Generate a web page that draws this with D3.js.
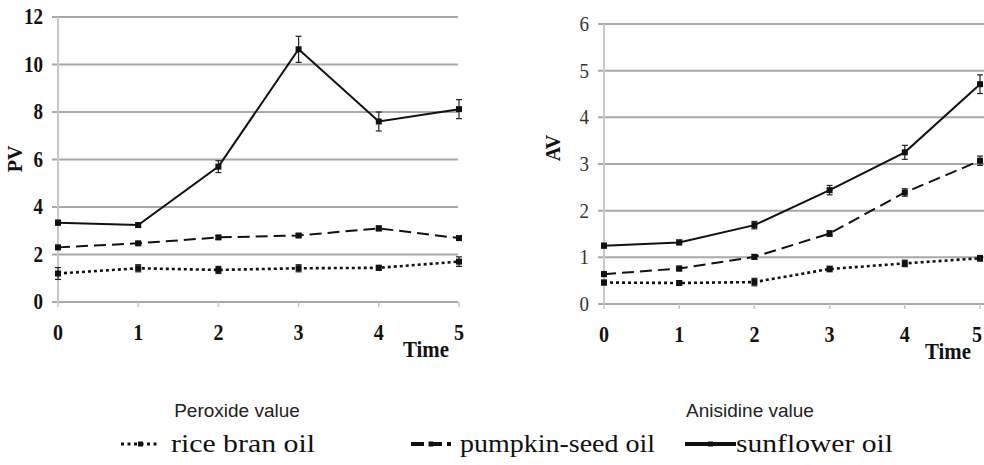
<!DOCTYPE html>
<html lang="en">
<head>
    <meta charset="UTF-8">
    <title>Peroxide and Anisidine value</title>
    <style>
        body { margin: 0; padding: 0; background: #fff; }
        svg { display: block; }
    </style>
</head>
<body>
    <svg id="chart"></svg>
    <script src="https://d3js.org/d3.v7.min.js"></script>
    <script>
        // data
        const times = [0, 1, 2, 3, 4, 5];
        const series = ["rice bran oil", "pumpkin-seed oil", "sunflower oil"];

        const pvRice = [1.2, 1.42, 1.35, 1.42, 1.44, 1.7];
        const pvPumpkin = [2.3, 2.47, 2.72, 2.8, 3.1, 2.69];
        const pvSunflower = [3.34, 3.24, 5.7, 10.64, 7.6, 8.12];
        const pvRiceErr = [0.25, 0.15, 0.15, 0.15, 0.1, 0.2];
        const pvPumpkinErr = [0.08, 0.08, 0.08, 0.08, 0.1, 0.08];
        const pvSunflowerErr = [0.1, 0.1, 0.25, 0.55, 0.4, 0.4];

        const avRice = [0.46, 0.45, 0.47, 0.75, 0.87, 0.98];
        const avPumpkin = [0.64, 0.76, 1.01, 1.51, 2.39, 3.07];
        const avSunflower = [1.25, 1.32, 1.69, 2.44, 3.25, 4.71];
        const avRiceErr = [0.05, 0.05, 0.08, 0.06, 0.07, 0.06];
        const avPumpkinErr = [0.05, 0.05, 0.05, 0.06, 0.08, 0.1];
        const avSunflowerErr = [0.05, 0.05, 0.08, 0.1, 0.15, 0.2];

        const pvTicks = [0, 2, 4, 6, 8, 10, 12];
        const avTicks = [0, 1, 2, 3, 4, 5, 6];

        const width = 984, height = 465;
        const serif = "'Liberation Serif', 'Times New Roman', 'DejaVu Serif', serif";
        const sans = "'Liberation Sans', Arial, sans-serif";
        const svg = d3.select("#chart").attr("width", width).attr("height", height);

        const dashes = ["3,3", "12,6", null];

        function panel(opt) {
            const x = d3.scaleLinear().domain([0, 5]).range([opt.x0, opt.x1]);
            const y = d3.scaleLinear().domain([0, opt.ymax]).range([opt.y0, opt.y1]);
            const g = svg.append("g");

            // gridlines
            g.selectAll("line.grid").data(opt.ticks).enter().append("line")
                .attr("x1", opt.x0 - 6).attr("x2", opt.gridEnd)
                .attr("y1", d => y(d)).attr("y2", d => y(d))
                .attr("stroke", "#a8a8a8").attr("stroke-width", 2);
            // vertical axis
            g.append("line")
                .attr("x1", opt.x0).attr("x2", opt.x0)
                .attr("y1", y(0)).attr("y2", y(opt.ymax))
                .attr("stroke", "#c8c8c8").attr("stroke-width", 2);
            // x tick stubs
            g.selectAll("line.xt").data(times).enter().append("line")
                .attr("x1", d => x(d)).attr("x2", d => x(d))
                .attr("y1", y(0)).attr("y2", y(0) + 5)
                .attr("stroke", "#c8c8c8").attr("stroke-width", 1.5);

            g.selectAll("text.yl").data(opt.ticks).enter().append("text")
                .attr("font-family", serif)
                .attr("font-size", opt.yBold ? 23 : 21)
                .attr("font-weight", opt.yBold ? "bold" : "normal")
                .attr("fill", opt.yBold ? "#111" : "#333")
                .attr("x", opt.x0 - 15).attr("y", d => y(d) + 7)
                .attr("text-anchor", "end")
                .attr("textLength", d => String(d).length * 9.5)
                .attr("lengthAdjust", "spacingAndGlyphs")
                .text(d => d);
            g.selectAll("text.xl").data(times).enter().append("text")
                .attr("font-family", serif).attr("font-size", 24).attr("font-weight", "bold")
                .attr("fill", "#111")
                .attr("x", d => Math.min(x(d), width - 7)).attr("y", y(0) + 38)
                .attr("text-anchor", "middle")
                .attr("textLength", 10)
                .attr("lengthAdjust", "spacingAndGlyphs")
                .text(d => d);

            g.append("text")
                .attr("font-family", serif).attr("font-size", 20).attr("font-weight", "bold")
                .attr("fill", "#111")
                .attr("transform", `translate(${opt.labelX},${opt.labelY}) rotate(-90)`)
                .attr("text-anchor", "middle")
                .text(opt.label);
            g.append("text")
                .attr("font-family", serif).attr("font-size", 23).attr("font-weight", "bold")
                .attr("fill", "#111")
                .attr("x", opt.timeX).attr("y", y(0) + 55)
                .attr("textLength", 46)
                .attr("lengthAdjust", "spacingAndGlyphs")
                .text("Time");

            const line = d3.line().x((d, i) => x(times[i])).y(d => y(d));

            opt.data.forEach((vals, s) => {
                const errs = opt.errs[s];
                g.append("path")
                    .datum(vals)
                    .attr("d", line)
                    .attr("fill", "none")
                    .attr("stroke", "#111")
                    .attr("stroke-width", s === 0 ? 2.6 : 2)
                    .attr("stroke-dasharray", dashes[s]);
                // error bars
                const eb = g.selectAll(null).data(vals).enter().append("g");
                eb.append("line")
                    .attr("x1", (d, i) => x(times[i])).attr("x2", (d, i) => x(times[i]))
                    .attr("y1", (d, i) => y(d - errs[i])).attr("y2", (d, i) => y(d + errs[i]))
                    .attr("stroke", "#222").attr("stroke-width", 1.2);
                [-1, 1].forEach(sg => {
                    eb.append("line")
                        .attr("x1", (d, i) => x(times[i]) - 3).attr("x2", (d, i) => x(times[i]) + 3)
                        .attr("y1", (d, i) => y(d + sg * errs[i])).attr("y2", (d, i) => y(d + sg * errs[i]))
                        .attr("stroke", "#222").attr("stroke-width", 1.2);
                });
                // markers
                g.selectAll(null).data(vals).enter().append("rect")
                    .attr("x", (d, i) => x(times[i]) - 3)
                    .attr("y", d => y(d) - 3)
                    .attr("width", 6).attr("height", 6)
                    .attr("fill", "#111");
            });
        }

        panel({
            x0: 58, x1: 459, gridEnd: 458, y0: 302, y1: 17, ymax: 12,
            ticks: pvTicks, yBold: true, label: "PV", labelX: 22, labelY: 159,
            timeX: 403,
            data: [pvRice, pvPumpkin, pvSunflower],
            errs: [pvRiceErr, pvPumpkinErr, pvSunflowerErr]
        });
        panel({
            x0: 604, x1: 980, gridEnd: 984, y0: 304, y1: 24, ymax: 6,
            ticks: avTicks, yBold: false, label: "AV", labelX: 560, labelY: 148,
            timeX: 925,
            data: [avRice, avPumpkin, avSunflower],
            errs: [avRiceErr, avPumpkinErr, avSunflowerErr]
        });

        // captions
        svg.append("text").attr("font-family", sans).attr("font-size", 19).attr("fill", "#222")
            .attr("x", 237).attr("y", 417)
            .attr("text-anchor", "middle").text("Peroxide value");
        svg.append("text").attr("font-family", sans).attr("font-size", 19).attr("fill", "#222")
            .attr("x", 750).attr("y", 417)
            .attr("text-anchor", "middle").text("Anisidine value");

        // legend
        const legendPos = [
            { lx0: 121, lx1: 160, tx: 171, tw: 144 },
            { lx0: 411, lx1: 451, tx: 460, tw: 195 },
            { lx0: 685, lx1: 736, tx: 736, tw: 157 }
        ];
        const lg = svg.append("g");
        series.forEach((name, s) => {
            const p = legendPos[s];
            const ly = 444;
            lg.append("line")
                .attr("x1", p.lx0).attr("x2", p.lx1).attr("y1", ly).attr("y2", ly)
                .attr("stroke", "#111")
                .attr("stroke-width", s === 0 ? 3 : 4)
                .attr("stroke-dasharray", s === 0 ? "3,3.5" : (s === 1 ? "13,5" : null));
            lg.append("rect")
                .attr("x", (p.lx0 + p.lx1) / 2 - 2.5).attr("y", ly - 2.5)
                .attr("width", 5).attr("height", 5).attr("fill", "#111");
            lg.append("text")
                .attr("font-family", serif).attr("font-size", 25).attr("fill", "#111")
                .attr("x", p.tx).attr("y", ly + 8)
                .attr("textLength", p.tw)
                .attr("lengthAdjust", "spacingAndGlyphs")
                .text(name);
        });
    </script>
</body>
</html>
